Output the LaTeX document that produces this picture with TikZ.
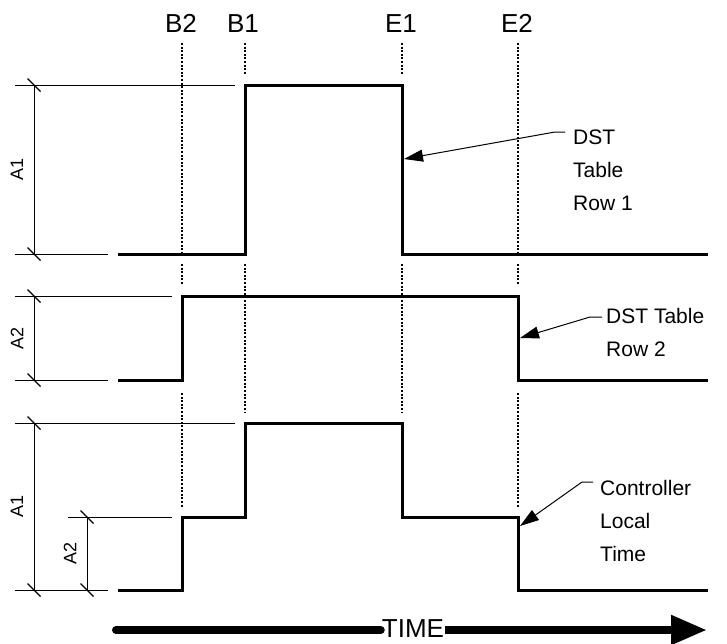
\documentclass[tikz,border=0pt]{standalone}
\usepackage{fontspec}
\setmainfont{Liberation Sans}
\usetikzlibrary{arrows.meta, positioning, calc}
\tikzset{
  wave/.style={line width=3pt, line join=miter, color=black},
  thinline/.style={line width=1pt, color=black},
  guide/.style={line width=1.6pt, dash pattern=on 2pt off 1.6pt},
  leader/.style={-{Triangle[length=19pt, width=12pt]}, line width=1pt},
  timearrow/.style={line width=8pt, color=black},
  evlabel/.style={font=\fontsize{26}{30}\selectfont, anchor=base, inner sep=0pt},
  dimlabel/.style={font=\fontsize{18}{20}\selectfont, rotate=90, inner sep=0pt},
  rowlabel/.style={font=\fontsize{21}{33}\selectfont, align=left,
    anchor=north west, inner sep=0pt}
}

\begin{document}
\begin{tikzpicture}[x=1pt, y=-1pt]
  \useasboundingbox (0,0) rectangle (727,643);

  % Event labels
  \node[evlabel] (b2) at (181,32) {B2};
  \node[evlabel] (b1) at (243,32) {B1};
  \node[evlabel] (e1) at (401,32) {E1};
  \node[evlabel] (e2) at (517,32) {E2};

  % Dotted guide lines
  \draw[guide] (182,43)--(182,254) (182,264)--(182,285) (182,393)--(182,507);
  \draw[guide] (245,43)--(245,75)  (245,264)--(245,412);
  \draw[guide] (402,43)--(402,75)  (402,264)--(402,412);
  \draw[guide] (518,43)--(518,254) (518,264)--(518,285) (518,393)--(518,507);

  % Row 1
  \draw[thinline] (15,85)--(235,85) (15,254)--(108,254) (34,85)--(34,254);
  \draw[wave] (118,254)--(245,254)--(245,85)--(402,85)--(402,254)--(708,254);
  \node[dimlabel] (a1top) at (17,169) {A1};

  % Row 2
  \draw[thinline] (15,296)--(172,296) (15,380)--(108,380) (34,296)--(34,380);
  \draw[wave] (118,380)--(182,380)--(182,296)--(518,296)--(518,380)--(708,380);
  \node[dimlabel] (a2mid) at (17,338) {A2};

  % Row 3 (sum)
  \draw[thinline] (15,423)--(235,423) (15,590)--(108,590) (34,423)--(34,590);
  \draw[thinline] (68,517)--(172,517) (87,517)--(87,590);
  \draw[wave] (118,590)--(182,590)--(182,517)--(245,517)--(245,423)
    --(402,423)--(402,517)--(518,517)--(518,590)--(708,590);
  \node[dimlabel] (a1bot) at (17,506) {A1};
  \node[dimlabel] (a2bot) at (70,553) {A2};

  % Dimension ticks
  \foreach \p in {(34,85),(34,254),(34,296),(34,380),(34,423),(34,590),
                  (87,517),(87,590)}
    \draw[thinline, line width=1.2pt] \p ++(-6.5,-6.5) -- ++(13,13);

  % Row names and leaders
  \node[rowlabel] (row1) at (573,130) {DST\\Table\\Row 1};
  \node[rowlabel] (row2) at (606,308) {DST Table\\Row 2};
  \node[rowlabel] (row3) at (600,480) {Controller\\Local\\Time};
  \coordinate (r1a) at (565,132);
  \coordinate (r1b) at (555,132);
  \coordinate (r1tip) at (404,159);
  \coordinate (r2a) at (602,317);
  \coordinate (r2b) at (590,317);
  \coordinate (r2tip) at (520,338);
  \coordinate (r3a) at (593,482);
  \coordinate (r3b) at (582,482);
  \coordinate (r3tip) at (520,526);
  \draw[leader] (r1a)--(r1b)--(r1tip);
  \draw[leader] (r2a)--(r2b)--(r2tip);
  \draw[leader] (r3a)--(r3b)--(r3tip);

  % Time axis
  \node[font=\fontsize{26}{30}\selectfont, inner xsep=1pt, inner ysep=0pt]
    (time) at (413,629) {TIME};
  \coordinate (tstart) at (116,630);
  \coordinate (tend) at (707,630);
  \draw[timearrow, line cap=round] (tstart) -- (time.west |- tstart);
  \draw[timearrow, -{Triangle[length=36pt, width=28pt]}] (time.east |- tend) -- (tend);
\end{tikzpicture}
\end{document}
